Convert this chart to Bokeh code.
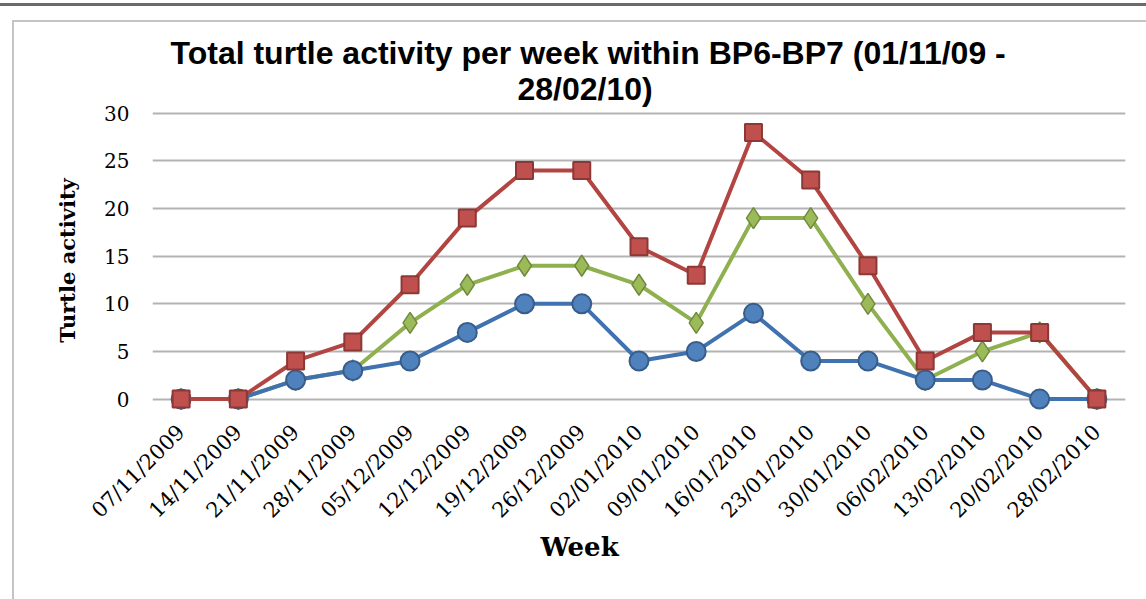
import math
from bokeh.plotting import figure
from bokeh.models import FactorRange, Range1d, Legend, LegendItem, FixedTicker, Title
from bokeh.embed import file_html
from bokeh.resources import INLINE

weeks = ["07/11/2009", "14/11/2009", "21/11/2009", "28/11/2009", "05/12/2009",
         "12/12/2009", "19/12/2009", "26/12/2009", "02/01/2010", "09/01/2010",
         "16/01/2010", "23/01/2010", "30/01/2010", "06/02/2010", "13/02/2010",
         "20/02/2010", "28/02/2010"]
nests = [0, 0, 2, 3, 8, 12, 14, 14, 12, 8, 19, 19, 10, 2, 5, 7, 0]
false_crawls = [0, 0, 2, 3, 4, 7, 10, 10, 4, 5, 9, 4, 4, 2, 2, 0, 0]
total = [0, 0, 4, 6, 12, 19, 24, 24, 16, 13, 28, 23, 14, 4, 7, 7, 0]
y_ticks = [0, 5, 10, 15, 20, 25, 30]
title_lines = ["Total turtle activity per week within BP6-BP7 (01/11/09 -", "28/02/10)"]

SERIF = "DejaVu Serif"

p = figure(x_range=FactorRange(factors=weeks), y_range=Range1d(-1.2, 30.3),
           frame_width=973, frame_height=300, output_backend="svg", toolbar_location=None,
           min_border_left=138, min_border_right=21, min_border_top=88,
           min_border_bottom=189, title=None)
p.outline_line_color = None
p.styles = {
    "margin-left": "12px", "margin-top": "20px",
    "border-left": "2px solid #c4c4c4", "border-top": "2px solid #c4c4c4",
    "box-shadow": "0 0 0 14px #ffffff, 0 0 0 17px #6a6a6a",
}

t2 = Title(text=title_lines[1], align="left", offset=365, text_font="Liberation Sans",
           text_font_size="32px", text_font_style="bold", text_color="#000000", standoff=8)
t1 = Title(text=title_lines[0], align="left", offset=18, text_font="Liberation Sans",
           text_font_size="32px", text_font_style="bold", text_color="#000000", standoff=-12)
p.add_layout(t2, "above")
p.add_layout(t1, "above")

p.xgrid.visible = False
p.ygrid.grid_line_color = "#b3b3b3"
p.ygrid.grid_line_width = 2
p.yaxis.ticker = FixedTicker(ticks=y_ticks)

for ax in (p.xaxis[0], p.yaxis[0]):
    ax.axis_line_color = None
    ax.major_tick_line_color = None
    ax.minor_tick_line_color = None
    ax.major_label_text_font = SERIF
    ax.major_label_text_color = "#000000"
    ax.axis_label_text_font = SERIF
    ax.axis_label_text_font_style = "bold"
    ax.axis_label_text_color = "#000000"

p.yaxis.major_label_text_font_size = "20px"
p.yaxis.major_label_standoff = 17
p.yaxis.axis_label = "Turtle activity"
p.yaxis.axis_label_text_font_size = "21px"
p.yaxis.axis_label_standoff = 21

p.xaxis.major_label_orientation = math.pi / 4
p.xaxis.major_label_text_font_size = "21px"
p.xaxis.major_label_standoff = 12

week_title = Title(text="Week", align="left", offset=388, text_font=SERIF,
                   text_font_size="26px", text_font_style="bold", text_color="#000000",
                   standoff=-10)
p.add_layout(week_title, "below")

g_line = p.line(weeks, nests, line_color="#8FB04E", line_width=4)
g_mark = p.scatter(weeks, nests, marker="diamond", size=21, fill_color="#9BBB59",
                   line_color="#71893F", line_width=1.5)
b_line = p.line(weeks, false_crawls, line_color="#3F72AF", line_width=4)
b_mark = p.scatter(weeks, false_crawls, marker="circle", size=19, fill_color="#4F81BD",
                   line_color="#385D8A", line_width=2)
r_line = p.line(weeks, total, line_color="#B24542", line_width=4)
r_mark = p.scatter(weeks, total, marker="square", size=17, fill_color="#C0504D",
                   line_color="#8C3836", line_width=2)

legend = Legend(items=[
    LegendItem(label="Nests", renderers=[g_line, g_mark]),
    LegendItem(label="False Crawls", renderers=[b_line, b_mark]),
    LegendItem(label="Total Turtle Activity", renderers=[r_line, r_mark]),
], orientation="horizontal", location=(98, 25))
legend.border_line_color = None
legend.background_fill_alpha = 0
legend.label_text_font = SERIF
legend.label_text_font_size = "20px"
legend.label_text_color = "#000000"
legend.glyph_width = 40
legend.glyph_height = 28
legend.label_height = 24
legend.spacing = 38
legend.label_standoff = 6
legend.margin = 0
legend.padding = 0
p.add_layout(legend, "below")

open("out.html", "w").write(file_html(p, INLINE))
